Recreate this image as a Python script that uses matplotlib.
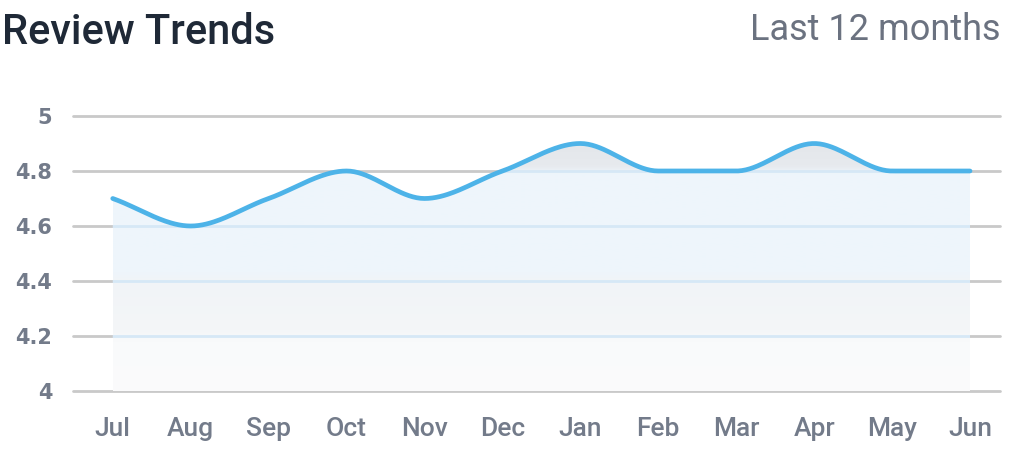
import numpy as np
import matplotlib
matplotlib.use("Agg")
import matplotlib.pyplot as plt
from matplotlib.colors import LinearSegmentedColormap

months = ["Jul", "Aug", "Sep", "Oct", "Nov", "Dec", "Jan", "Feb", "Mar", "Apr", "May", "Jun"]
ratings = [4.7, 4.6, 4.7, 4.8, 4.7, 4.8, 4.9, 4.8, 4.8, 4.9, 4.8, 4.8]
y_ticks = [4, 4.2, 4.4, 4.6, 4.8, 5]
y_tick_labels = ["4", "4.2", "4.4", "4.6", "4.8", "5"]
title = "Review Trends"
subtitle = "Last 12 months"


def monotone_cubic(x, y, n=40):
    x = np.asarray(x, float)
    y = np.asarray(y, float)
    h = np.diff(x)
    d = np.diff(y) / h
    m = np.zeros_like(y)
    m[0], m[-1] = d[0], d[-1]
    for i in range(1, len(y) - 1):
        if d[i - 1] * d[i] <= 0:
            m[i] = 0
        else:
            w1 = 2 * h[i] + h[i - 1]
            w2 = h[i] + 2 * h[i - 1]
            m[i] = (w1 + w2) / (w1 / d[i - 1] + w2 / d[i])
    xs, ys = [], []
    for i in range(len(x) - 1):
        t = np.linspace(0, 1, n, endpoint=False)
        h00 = 2 * t**3 - 3 * t**2 + 1
        h10 = t**3 - 2 * t**2 + t
        h01 = -2 * t**3 + 3 * t**2
        h11 = t**3 - t**2
        xs.append(x[i] + t * h[i])
        ys.append(h00 * y[i] + h10 * h[i] * m[i] + h01 * y[i + 1] + h11 * h[i] * m[i + 1])
    xs.append([x[-1]])
    ys.append([y[-1]])
    return np.concatenate(xs), np.concatenate(ys)


plt.rcParams["font.family"] = ["Roboto", "DejaVu Sans"]
fig = plt.figure(figsize=(10.24, 4.71), dpi=100)
ax = fig.add_axes([73 / 1024, 80 / 471, 927 / 1024, 275 / 471])

x = np.arange(len(months))
xs, ys = monotone_cubic(x, ratings)

x0, x1 = -0.51, len(months) - 1 + 0.385
ax.set_xlim(x0, x1)
ax.set_ylim(4, 5)

# gridlines
for yt in y_ticks:
    ax.plot([x0, x1], [yt, yt], color="#c9c9c9", lw=2.0,
            solid_capstyle="round", zorder=1, clip_on=False)

# gradient fill (banded like the reference)
poly = ax.fill_between(xs, ys, 4, color="none", lw=0, zorder=2)
ymax = 4.92
stops = [(4.0, "#fbfbfc"), (4.18, "#f9fafb"), (4.22, "#f4f6f8"), (4.40, "#f1f4f7"),
         (4.43, "#eef5fb"), (4.79, "#eef6fc"), (4.82, "#e7eaee"), (ymax, "#e3e6ea")]
cmap = LinearSegmentedColormap.from_list(
    "g", [((v - 4.0) / (ymax - 4.0), c) for v, c in stops])
grad = np.linspace(0, 1, 512).reshape(-1, 1)
img = ax.imshow(grad, extent=[x[0], x[-1], 4, ymax], origin="lower", aspect="auto",
                cmap=cmap, zorder=2, interpolation="bilinear")
path = poly.get_paths()[0]
img.set_clip_path(path, transform=ax.transData)

# faint gridlines within the filled area
for yt in y_ticks[1:]:
    ln, = ax.plot([x0, x1], [yt, yt], color="#d6e8f6", lw=2.0, zorder=3)
    ln.set_clip_path(path, transform=ax.transData)

ax.plot(xs, ys, color="#4db3e8", lw=3.4, solid_capstyle="round", zorder=4)

ax.set_yticks(y_ticks)
ax.set_yticklabels(y_tick_labels)
ax.set_xticks(x)
ax.set_xticklabels(months)
ax.tick_params(axis="both", length=0, labelcolor="#6b7280")
ax.tick_params(axis="y", pad=15)
ax.tick_params(axis="x", pad=19)
for lbl in ax.get_yticklabels():
    lbl.set_fontfamily("DejaVu Sans")
    lbl.set_fontweight("bold")
    lbl.set_fontsize(15)
    lbl.set_color("#737b8a")
for lbl in ax.get_xticklabels():
    lbl.set_fontweight("medium")
    lbl.set_fontsize(19)
    lbl.set_color("#737b8a")
for s in ax.spines.values():
    s.set_visible(False)

fig.text(2 / 1024, 1 - 32 / 471, title, fontsize=30, fontweight="medium", color="#1f2937",
         ha="left", va="center")
fig.text(1001 / 1024, 1 - 30 / 471, subtitle, fontsize=26, color="#6b7280",
         ha="right", va="center")

fig.savefig("out.png", dpi=100, facecolor="white")
